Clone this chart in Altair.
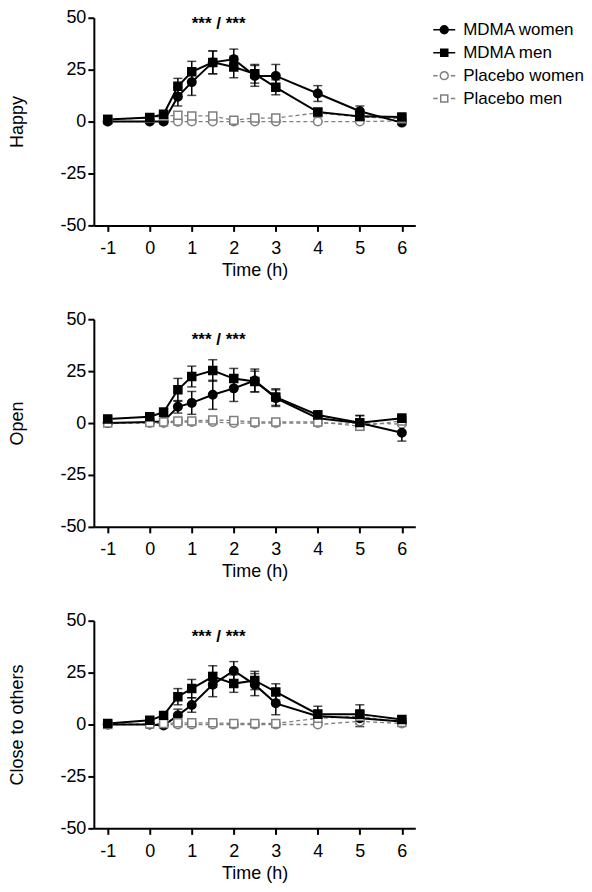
import altair as alt
import pandas as pd

# ---------------- data ----------------
times = [-1, 0, 0.33, 0.67, 1, 1.5, 2, 2.5, 3, 4, 5, 6]
groups = ["MDMA women", "MDMA men", "Placebo women", "Placebo men"]
panel_titles = ["Happy", "Open", "Close to others"]
x_ticks = [-1, 0, 1, 2, 3, 4, 5, 6]
y_ticks = [-50, -25, 0, 25, 50]
annot_text = "*** / ***"
annot_x = [1.64, 1.64, 1.64]
annot_y = [47, 40, 42]

# Happy
happy_mdma_women = [0, 0, 0, 12, 19, 28.5, 30, 22, 22, 13.5, 5, -0.5]
happy_mdma_women_sem = [0.8, 0.8, 1, 4.5, 6.4, 5.5, 4.9, 5, 5.5, 3.8, 2.5, 1]
happy_mdma_men = [1, 2, 3.5, 17, 24, 28.5, 26.3, 23, 16.5, 4.6, 2.5, 2.2]
happy_mdma_men_sem = [0.8, 1, 1.5, 3.8, 5, 5.5, 5.2, 4.5, 3.6, 1.5, 1.5, 1.2]
happy_placebo_women = [0, 0, 0, 0, 0, 0, 0, 0, 0, 0, 0, 0.3]
happy_placebo_women_sem = [0.4, 0.4, 0.4, 0.4, 0.4, 0.4, 0.4, 0.4, 0.4, 0.4, 0.4, 0.5]
happy_placebo_men = [1.1, 1.7, 2.7, 3, 2.7, 2.7, 0.6, 1.7, 1.7, 4.2, 2.2, 1.4]
happy_placebo_men_sem = [0.8, 1, 1.2, 1.5, 1.5, 1.5, 0.6, 1, 1, 2, 1.2, 1]

# Open
open_mdma_women = [0, 0.5, 0.8, 7.8, 9.7, 13.6, 16.7, 20.5, 12, 2.3, 0, -4.7]
open_mdma_women_sem = [0.5, 0.8, 1, 3, 5.5, 7, 6.3, 5.5, 4, 2, 3.5, 4]
open_mdma_men = [2, 3, 5.2, 16, 22.4, 25.3, 21.4, 20, 12.5, 3.9, 0.2, 2.3]
open_mdma_men_sem = [1, 1.5, 2, 5.5, 5, 5.2, 4.9, 5, 4, 2, 3.5, 2]
open_placebo_women = [0, 0, 0, 0.5, 0.5, 0.5, 0, 0, 0, 0, 0, -0.5]
open_placebo_women_sem = [0.4, 0.4, 0.4, 0.6, 0.6, 0.6, 0.4, 0.4, 0.4, 0.4, 0.5, 0.6]
open_placebo_men = [0, 0.3, 0.5, 1, 1, 1.5, 1.2, 0.5, 0.5, 0.5, -1.5, 1]
open_placebo_men_sem = [0.4, 0.5, 0.6, 0.8, 0.8, 1, 0.8, 0.6, 0.6, 0.6, 1.5, 0.8]

# Close to others
close_mdma_women = [0, 0, -0.5, 4.4, 9.4, 19.2, 25.9, 19.2, 10.2, 4, 3, 1.5]
close_mdma_women_sem = [0.5, 0.8, 1, 3, 3.5, 5.8, 4.4, 5.3, 5.5, 3, 4, 1.5]
close_mdma_men = [0.5, 2, 4.4, 13.4, 17.3, 23.1, 19.7, 21.2, 15.7, 5, 5, 2.4]
close_mdma_men_sem = [0.8, 1, 1.5, 3.9, 4.4, 5.2, 4.2, 4.4, 3.9, 3.8, 4.5, 1.5]
close_placebo_women = [0, 0, 0, 0, 0, 0, 0, 0, 0, 0, 1.5, 0.5]
close_placebo_women_sem = [0.4, 0.4, 0.4, 0.4, 0.4, 0.4, 0.4, 0.4, 0.4, 0.5, 1.5, 0.6]
close_placebo_men = [0, 0.3, 0.5, 0.8, 0.8, 0.8, 0.5, 0.5, 0.5, 3, 4, 1]
close_placebo_men_sem = [0.4, 0.5, 0.5, 0.6, 0.6, 0.6, 0.5, 0.5, 0.5, 2, 2.5, 0.8]

panel_data = [
    ([happy_mdma_women, happy_mdma_men, happy_placebo_women, happy_placebo_men],
     [happy_mdma_women_sem, happy_mdma_men_sem, happy_placebo_women_sem, happy_placebo_men_sem]),
    ([open_mdma_women, open_mdma_men, open_placebo_women, open_placebo_men],
     [open_mdma_women_sem, open_mdma_men_sem, open_placebo_women_sem, open_placebo_men_sem]),
    ([close_mdma_women, close_mdma_men, close_placebo_women, close_placebo_men],
     [close_mdma_women_sem, close_mdma_men_sem, close_placebo_women_sem, close_placebo_men_sem]),
]

# ---------------- styling ----------------
FONT = "Liberation Sans"
BLACK = "#000000"
GREY = "#7f7f7f"
stroke_range = [BLACK, BLACK, GREY, GREY]
fill_range = [BLACK, BLACK, "#ffffff", "#ffffff"]
legend_paths = [
    "M-1,0H1M-0.36,0A0.36,0.36,0,1,1,0.36,0A0.36,0.36,0,1,1,-0.36,0Z",
    "M-1,0H1M-0.32,-0.32H0.32V0.32H-0.32Z",
    "M-1,0H-0.6M0.6,0H1M-0.36,0A0.36,0.36,0,1,1,0.36,0A0.36,0.36,0,1,1,-0.36,0Z",
    "M-1,0H-0.6M0.6,0H1M-0.32,-0.32H0.32V0.32H-0.32Z",
]

x_scale = alt.Scale(domain=[-1.33, 6.32], nice=False, zero=False)
y_scale = alt.Scale(domain=[-50, 50], nice=False, zero=False)

leg = alt.Legend(title=None, orient="right", offset=17, symbolSize=484,
                 symbolStrokeWidth=1.5, labelFont=FONT, labelFontSize=17,
                 labelColor=BLACK, labelOffset=7, rowPadding=3, padding=0)


def build_df(means, sems):
    rows = []
    # placebo first so that MDMA series are drawn on top
    for gi in [2, 3, 0, 1]:
        g = groups[gi]
        for t, v, e in zip(times, means[gi], sems[gi]):
            rows.append({
                "time": t, "value": v, "lo": v - e, "hi": v + e,
                "group": g, "sex": "women" if g.endswith("women") else "men",
                "kind": "MDMA" if g.startswith("MDMA") else "Placebo",
            })
    return pd.DataFrame(rows)


def make_panel(idx, with_legend):
    means, sems = panel_data[idx]
    df = build_df(means, sems)
    base = alt.Chart(df)
    x_axis = alt.Axis(values=x_ticks, title="Time (h)", labelFlush=False, labelExpr="'' + datum.value")
    y_axis = alt.Axis(values=y_ticks, title=panel_titles[idx], labelExpr="'' + datum.value")
    x_enc = alt.X("time:Q", scale=x_scale, axis=x_axis)
    y_enc = alt.Y("value:Q", scale=y_scale, axis=y_axis)
    fill_enc = alt.Fill("group:N", scale=alt.Scale(domain=groups, range=fill_range), legend=leg)
    stroke_enc = alt.Stroke("group:N", scale=alt.Scale(domain=groups, range=stroke_range), legend=leg)

    placebo = base.transform_filter(alt.datum.kind == "Placebo")
    mdma = base.transform_filter(alt.datum.kind == "MDMA")

    err_p = placebo.mark_errorbar(ticks=True, size=9, thickness=1.3, color=GREY).encode(
        x=x_enc, y=alt.Y("lo:Q", scale=y_scale, axis=y_axis), y2="hi:Q")
    err_m = mdma.mark_errorbar(ticks=True, size=9, thickness=1.5, color=BLACK).encode(
        x=x_enc, y=alt.Y("lo:Q", scale=y_scale, axis=y_axis), y2="hi:Q")
    line_p = placebo.mark_line(strokeWidth=1.3, strokeDash=[4, 3], color=GREY).encode(
        x=x_enc, y=y_enc, detail="group:N")
    line_m = mdma.mark_line(strokeWidth=2, color=BLACK).encode(
        x=x_enc, y=y_enc, detail="group:N")
    pts_w = base.transform_filter(alt.datum.sex == "women").mark_point(
        shape="circle", size=72, strokeWidth=1.5, opacity=1).encode(
        x=x_enc, y=y_enc, fill=fill_enc, stroke=stroke_enc)
    pts_m = base.transform_filter(alt.datum.sex == "men").mark_point(
        shape="square", size=64, strokeWidth=1.5, opacity=1).encode(
        x=x_enc, y=y_enc, fill=fill_enc, stroke=stroke_enc)

    ann_df = pd.DataFrame({"time": [annot_x[idx]], "value": [annot_y[idx]], "label": [annot_text]})
    ann = alt.Chart(ann_df).mark_text(font=FONT, fontSize=17, fontWeight="bold", color=BLACK).encode(
        x=x_enc, y=y_enc, text="label:N")
    layers = [err_p, line_p, err_m, line_m, pts_w, pts_m, ann]

    if with_legend:
        leg_df = pd.DataFrame({"group": groups, "time": [0, 0, 0, 0], "value": [0, 0, 0, 0]})
        legend_layer = alt.Chart(leg_df).transform_filter("false").mark_point(opacity=1).encode(
            x=x_enc, y=y_enc, fill=fill_enc, stroke=stroke_enc,
            shape=alt.Shape("group:N", scale=alt.Scale(domain=groups, range=legend_paths), legend=leg),
        )
        layers.append(legend_layer)

    return alt.layer(*layers).properties(width=322, height=208)


chart = alt.vconcat(
    make_panel(0, True), make_panel(1, False), make_panel(2, False), spacing=31
).properties(padding=0).configure_view(stroke=None).configure_axis(
    grid=False, domainColor=BLACK, domainWidth=2, tickColor=BLACK, tickWidth=2,
    labelColor=BLACK, titleColor=BLACK, labelFont=FONT, titleFont=FONT,
    labelFontSize=18, titleFontSize=18, titleFontWeight="normal",
).configure_axisX(tickSize=6, labelPadding=8, titlePadding=4).configure_axisY(
    tickSize=6, labelPadding=2, titlePadding=33
).configure_legend(
    labelFont=FONT, labelFontSize=17, labelColor=BLACK, rowPadding=3,
    symbolSize=484, labelOffset=7, padding=0,
)

chart.save("out.html", embed_options={"renderer": "svg", "actions": False})
